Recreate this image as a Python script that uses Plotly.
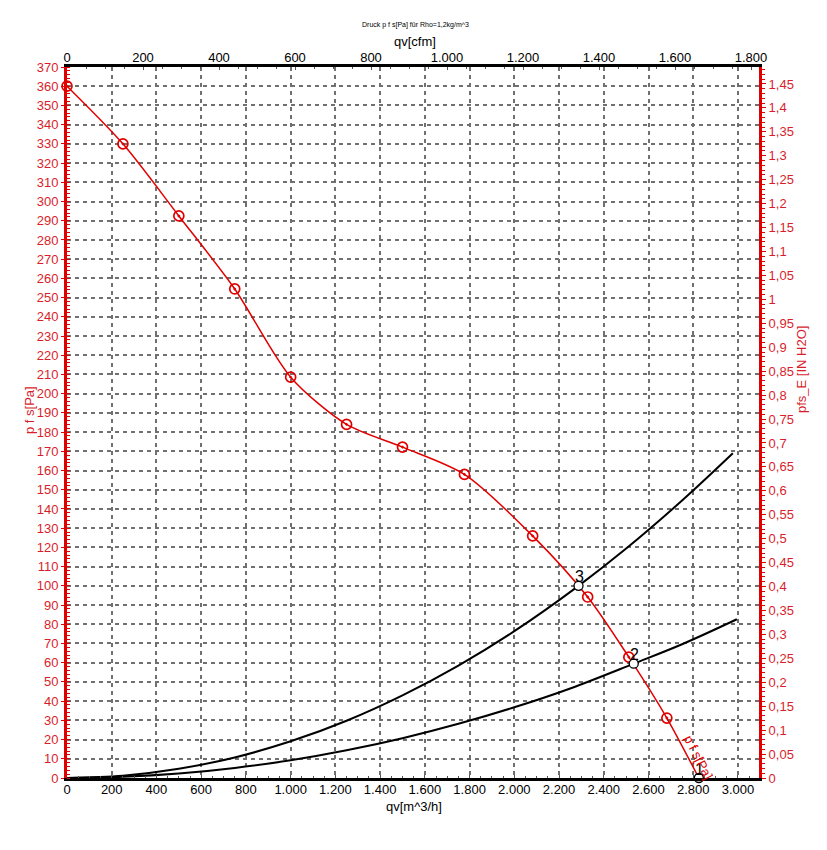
import plotly.graph_objects as go

# ---------------- data ----------------
fan_q = [0, 250, 500, 750, 1000, 1250, 1500, 1777, 2082, 2328, 2512, 2682, 2825]
fan_p = [360, 330, 292.5, 254.5, 208.6, 184, 172.2, 158, 126, 94.2, 62.9, 31.2, 0]

sys3_q = [0, 250, 500, 750, 1000, 1250, 1500, 1750, 2000, 2287, 2500, 2750, 2977]
sys3_p = [0, 1.2, 4.8, 10.7, 19.1, 29.8, 43, 58.5, 76.4, 100, 119.4, 144.4, 169]

sys2_q = [0, 250, 500, 750, 1000, 1250, 1500, 1750, 2000, 2250, 2534, 2750, 2995]
sys2_p = [0, 0.6, 2.3, 5.2, 9.2, 14.4, 20.7, 28.2, 36.8, 46.6, 59.5, 69.6, 82.6]

op_q = [2825, 2534, 2287]
op_p = [0, 59.5, 100]
op_labels = ["1", "2", "3"]

x_ticks = list(range(0, 3001, 200))
x2_ticks = list(range(0, 1801, 200))
y_ticks = list(range(0, 371, 10))
y2_ticks = [i * 0.05 for i in range(0, 30)]

X_MAX = 3094          # m^3/h
Y_MAX = 370           # Pa
M3H_PER_CFM = 1.69901
PA_PER_INH2O = 249.089

RED = "#e00000"
RED_TXT = "#d81e2c"
FONT = "Liberation Sans, Arial, sans-serif"

# page offset (browser body margin) compensation
OFF = 8
PL, PT, PW, PH = 67, 67, 692, 711  # desired plot area in window pixels


def thou(v):
    return f"{v:,}".replace(",", ".")


def dec(v):
    s = f"{v:.2f}".rstrip("0").rstrip(".")
    return s.replace(".", ",")


def px(xw):
    return (xw - PL) / PW


def py(yw):
    return (PT + PH - yw) / PH


fig = go.Figure()

# system curves
fig.add_trace(go.Scatter(x=sys3_q, y=sys3_p, mode="lines", line=dict(color="black", width=2, shape="spline"),
                         showlegend=False, hoverinfo="skip"))
fig.add_trace(go.Scatter(x=sys2_q, y=sys2_p, mode="lines", line=dict(color="black", width=2, shape="spline"),
                         showlegend=False, hoverinfo="skip"))

# fan curve
fig.add_trace(go.Scatter(x=fan_q, y=fan_p, mode="lines", line=dict(color=RED, width=1.5, shape="spline", smoothing=0.8),
                         showlegend=False))
fig.add_trace(go.Scatter(x=fan_q[:-1], y=fan_p[:-1], mode="markers",
                         marker=dict(symbol="circle-open-dot", size=10, color=RED, line=dict(width=1.7, color=RED)),
                         showlegend=False, cliponaxis=False))

# operating points
fig.add_trace(go.Scatter(x=op_q, y=op_p, mode="markers",
                         marker=dict(symbol="circle", size=9, color="white", line=dict(width=1.3, color="black")),
                         showlegend=False, cliponaxis=False))

# dummy trace for secondary axes
fig.add_trace(go.Scatter(x=[0, X_MAX / M3H_PER_CFM], y=[0, Y_MAX / PA_PER_INH2O], xaxis="x2", yaxis="y2",
                         mode="markers", marker=dict(opacity=0), showlegend=False, hoverinfo="skip"))

annotations = []
for q, p, t in zip(op_q, op_p, op_labels):
    annotations.append(dict(x=q, y=p, xref="x", yref="y", text=t, showarrow=False,
                            xanchor="center", yanchor="middle",
                            font=dict(family=FONT, size=16, color="black"), yshift=9, xshift=1))

annotations.append(dict(x=2822, y=10.5, xref="x", yref="y", text="p f s[Pa]", showarrow=False,
                        xanchor="center", yanchor="middle",
                        textangle=63, font=dict(family=FONT, size=13, color=RED)))


def ptext(xw, yw, text, size, color, angle=0):
    return dict(x=px(xw), y=py(yw), xref="paper", yref="paper", text=text, showarrow=False,
                xanchor="center", yanchor="middle", textangle=angle,
                font=dict(family=FONT, size=size, color=color))


annotations.append(ptext(415, 25, "Druck p f s[Pa] für Rho=1,2kg/m^3", 7, "black"))
annotations.append(ptext(415, 42, "qv[cfm]", 13, "black"))
annotations.append(ptext(414, 806, "qv[m^3/h]", 13, "black"))
annotations.append(ptext(30, 410, "p f s[Pa]", 13, RED_TXT, -90))
annotations.append(ptext(801, 370, "pfs_E [IN H2O]", 13, RED_TXT, -90))

grid = dict(showgrid=True, gridcolor="#707070", gridwidth=1.5, griddash="4px,4px")

W, H = 827 - OFF, 850 - OFF
ml, mt = PL - OFF, PT - OFF

fig.update_layout(
    width=W, height=H,
    margin=dict(l=ml, r=W - ml - PW, t=mt, b=H - mt - PH, autoexpand=False),
    paper_bgcolor="white", plot_bgcolor="white",
    font=dict(family=FONT),
    showlegend=False,
    annotations=annotations,
    xaxis=dict(range=[0, X_MAX], tickmode="array", tickvals=x_ticks, ticktext=[thou(v) for v in x_ticks],
               showline=True, linecolor="black", linewidth=3, automargin=False,
               ticks="inside", ticklen=3, tickcolor="#555", ticklabelstandoff=-3,
               minor=dict(ticks="inside", dtick=50, tick0=0, ticklen=2, tickcolor="#555", showgrid=False),
               tickfont=dict(family=FONT, size=13, color="black"), zeroline=False, **grid),
    yaxis=dict(range=[0, Y_MAX], tickmode="array", tickvals=y_ticks, ticktext=[str(v) for v in y_ticks],
               showline=True, linecolor=RED, linewidth=3, automargin=False,
               ticks="outside", ticklen=3, tickcolor=RED,
               minor=dict(ticks="inside", dtick=2, tick0=0, ticklen=3, tickcolor=RED, showgrid=False),
               tickfont=dict(family=FONT, size=13, color=RED_TXT), zeroline=False, **grid),
    xaxis2=dict(range=[0, X_MAX / M3H_PER_CFM], overlaying="x", side="top", anchor="y",
                tickmode="array", tickvals=x2_ticks, ticktext=[thou(v) for v in x2_ticks],
                showline=True, linecolor="black", linewidth=3, automargin=False,
                ticks="inside", ticklen=3, tickcolor="#555", ticklabelstandoff=-3,
                minor=dict(ticks="inside", dtick=50, tick0=0, ticklen=2, tickcolor="#555", showgrid=False),
                tickfont=dict(family=FONT, size=13, color="black"), showgrid=False, zeroline=False),
    yaxis2=dict(range=[0, Y_MAX / PA_PER_INH2O], overlaying="y", side="right", anchor="x",
                tickmode="array", tickvals=y2_ticks, ticktext=[dec(v) for v in y2_ticks],
                showline=True, linecolor=RED, linewidth=3, automargin=False,
                ticks="outside", ticklen=4, tickcolor=RED,
                minor=dict(ticks="outside", dtick=0.01, tick0=0, ticklen=3, tickcolor=RED, showgrid=False),
                tickfont=dict(family=FONT, size=13, color=RED_TXT), showgrid=False, zeroline=False),
)

fig.write_html("out.html")
